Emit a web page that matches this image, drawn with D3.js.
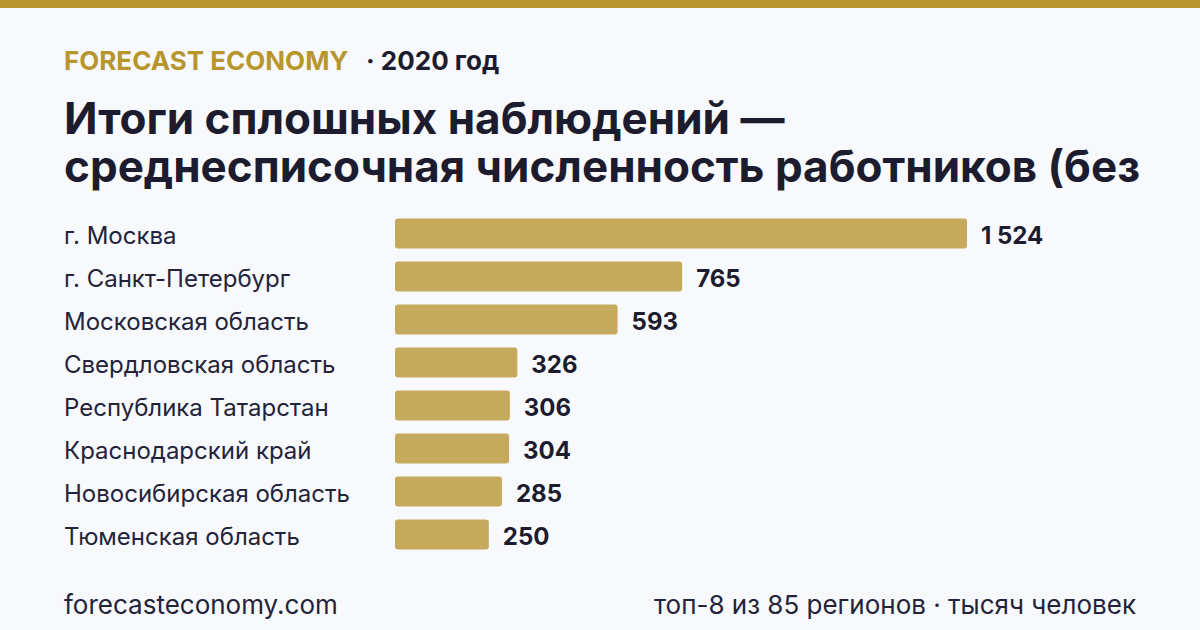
<!DOCTYPE html>
<html>
<head>
<meta charset="utf-8">
<script src="https://cdn.jsdelivr.net/npm/d3@7"></script>
<style>
  body { margin: 0; background: #f8f9fc; }
  svg { display: block; font-family: Inter, "Noto Sans", sans-serif; }
</style>
</head>
<body>
<div id="chart"></div>
<script>
// top regions, thousand people
var regions = ["г. Москва", "г. Санкт-Петербург", "Московская область", "Свердловская область",
  "Республика Татарстан", "Краснодарский край", "Новосибирская область", "Тюменская область"]
var workers = [1524, 765, 593, 326, 306, 304, 285, 250]

var W = 1200, H = 630
var gold = "#b8962e", ink = "#1c1c2e"

var svg = d3.select("#chart")
  .append("svg")
    .attr("width", W)
    .attr("height", H)

svg.append("rect").attr("width", W).attr("height", H).attr("fill", "#f8f9fc")
svg.append("rect").attr("width", W).attr("height", 8).attr("fill", gold)

// header
svg.append("text")
  .attr("x", 64).attr("y", 70)
  .attr("font-size", 26).attr("font-weight", 700)
  .attr("fill", gold)
  .text("FORECAST ECONOMY")
svg.append("text")
  .attr("x", 366).attr("y", 70)
  .attr("font-size", 26).attr("font-weight", 700)
  .attr("fill", ink)
  .text("· 2020 год")

// title (cut off like the original)
var titleLines = ["Итоги сплошных наблюдений —", "среднесписочная численность работников (без"]
svg.selectAll("text.title")
  .data(titleLines)
  .enter()
  .append("text")
    .attr("class", "title")
    .attr("x", 64)
    .attr("y", function(d, i) { return 134 + i * 48 })
    .attr("font-size", 44).attr("font-weight", 700)
    .attr("fill", ink)
    .text(function(d) { return d })

// scales
var x = d3.scaleLinear()
  .domain([0, d3.max(workers)])
  .range([0, 572])

var y = d3.scaleBand()
  .domain(regions)
  .range([212, 556])
  .paddingInner(0.3)
  .paddingOuter(0.15)

var g = svg.append("g").attr("transform", "translate(395,0)")

var rows = regions.map(function(r, i) { return {region: r, value: workers[i]} })

g.selectAll("rect.bar")
  .data(rows)
  .enter()
  .append("rect")
    .attr("class", "bar")
    .attr("x", 0)
    .attr("y", function(d) { return y(d.region) })
    .attr("width", function(d) { return x(d.value) })
    .attr("height", y.bandwidth())
    .attr("rx", 3)
    .attr("fill", "#c5a95c")

var fmt = d3.formatLocale({decimal: ",", thousands: "\u00a0", grouping: [3], currency: ["", ""]}).format(",d")

g.selectAll("text.val")
  .data(rows)
  .enter()
  .append("text")
    .attr("class", "val")
    .attr("x", function(d) { return x(d.value) + 14 })
    .attr("y", function(d) { return y(d.region) + y.bandwidth() / 2 + 2 })
    .attr("dy", "0.36em")
    .attr("font-size", 24).attr("font-weight", 700)
    .attr("fill", ink)
    .text(function(d) { return fmt(d.value) })

svg.selectAll("text.cat")
  .data(rows)
  .enter()
  .append("text")
    .attr("class", "cat")
    .attr("x", 64)
    .attr("y", function(d) { return y(d.region) + y.bandwidth() / 2 + 2 })
    .attr("dy", "0.36em")
    .attr("font-size", 24)
    .attr("fill", "#23233a")
    .text(function(d) { return d.region })

// footer
svg.append("text")
  .attr("x", 64).attr("y", 614)
  .attr("font-size", 26)
  .attr("fill", "#23233a")
  .text("forecasteconomy.com")
svg.append("text")
  .attr("x", 1136).attr("y", 614)
  .attr("text-anchor", "end")
  .attr("font-size", 26)
  .attr("fill", "#23233a")
  .text("топ-8 из 85 регионов · тысяч человек")
</script>
</body>
</html>
